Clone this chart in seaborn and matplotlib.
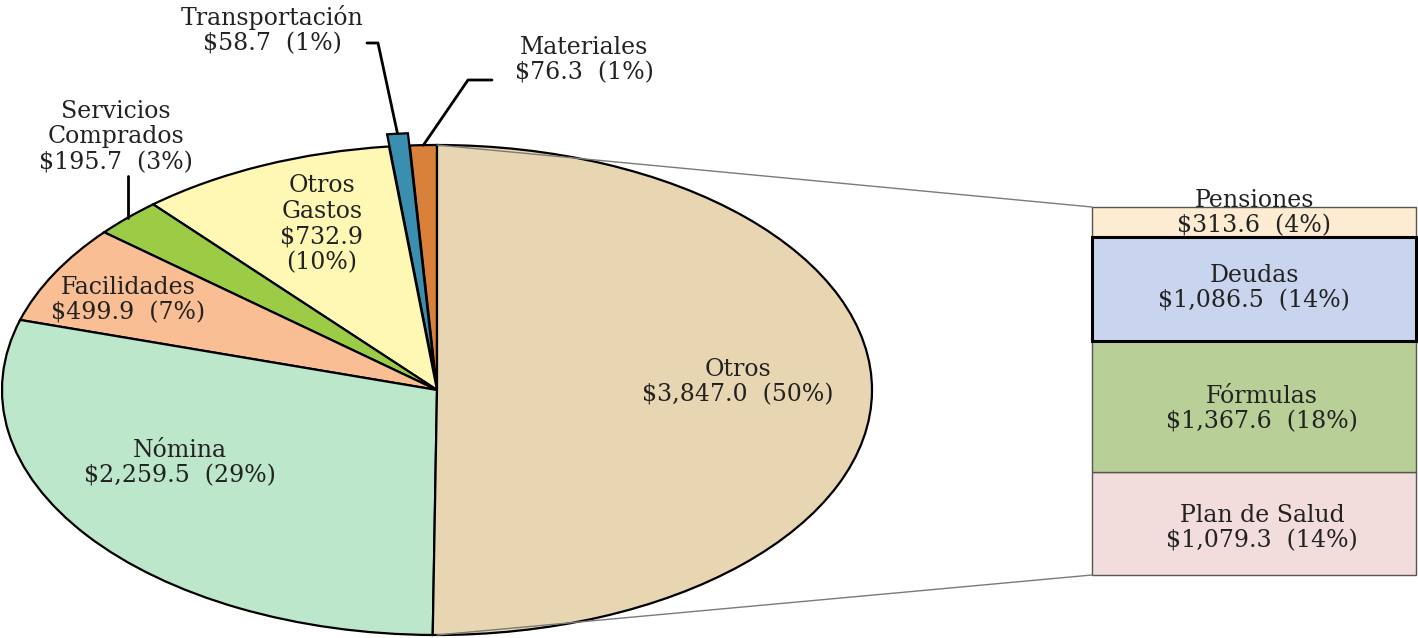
import numpy as np
import matplotlib.pyplot as plt
import seaborn as sns
from matplotlib.patches import ConnectionPatch

# pie slices, counter-clockwise from 12 o'clock
pie_names = ["Materiales", "Transportación", "Otros Gastos", "Servicios\nComprados",
             "Facilidades", "Nómina", "Otros"]
pie_values = [76.3, 58.7, 732.9, 195.7, 499.9, 2259.5, 3847.0]
pie_pcts = ["1%", "1%", "10%", "3%", "7%", "29%", "50%"]
pie_colors = ["#D9803A", "#3A8FB0", "#FEF8B4", "#9CCB45", "#F9BE93", "#BCE7CA", "#E8D6B2"]

# breakdown of "Otros", bottom to top
bar_names = ["Plan de Salud", "Fórmulas", "Deudas", "Pensiones"]
bar_values = [1079.3, 1367.6, 1086.5, 313.6]
bar_pcts = ["14%", "18%", "14%", "4%"]
bar_colors = ["#F2DDDC", "#B8CF98", "#C9D5EE", "#FDEBD2"]

W, H = 1418, 638

sns.set_theme(style="white")
plt.rcParams["font.family"] = ["DejaVu Serif"]

fig = plt.figure(figsize=(W / 100, H / 100), dpi=100)


def rect(x0, y0, x1, y1):
    return [x0 / W, 1 - y1 / H, (x1 - x0) / W, (y1 - y0) / H]


def money(v):
    return f"${v:,.1f}"


# pie (squashed into an ellipse)
ax_pie = fig.add_axes(rect(2, 145, 872, 635))
explode = [0, 0.05, 0, 0, 0, 0, 0]
wedges, _ = ax_pie.pie(pie_values, colors=pie_colors, startangle=90, counterclock=True,
                       explode=explode,
                       wedgeprops=dict(edgecolor="black", linewidth=1.6))
for w in wedges:
    w.set_clip_on(False)
ax_pie.set_aspect("auto")
ax_pie.set_xlim(-1, 1)
ax_pie.set_ylim(-1, 1)
ax_pie.axis("off")

# stacked bar
ax_bar = fig.add_axes(rect(1092, 207, 1416, 575))
bottoms = np.concatenate([[0], np.cumsum(bar_values)[:-1]])
total = sum(bar_values)
draw_order = [0, 1, 3, 2]
for i in draw_order:
    thick = bar_names[i] == "Deudas"
    sns.barplot(x=["Otros"], y=[bar_values[i]], bottom=bottoms[i], color=bar_colors[i],
                saturation=1, width=1, errorbar=None,
                edgecolor="black" if thick else "#555555",
                linewidth=2.2 if thick else 1.0, ax=ax_bar, clip_on=False)
ax_bar.set_xlim(-0.5, 0.5)
ax_bar.set_ylim(0, total)
ax_bar.axis("off")

# connector lines pie -> bar
for ya, yb in [(1, total), (-1, 0)]:
    con = ConnectionPatch(xyA=(0, ya), coordsA=ax_pie.transData,
                          xyB=(-0.5, yb), coordsB=ax_bar.transData,
                          color="#7a7a7a", lw=1.0)
    fig.add_artist(con)

# overlay in pixel coordinates for labels
ax_top = fig.add_axes([0, 0, 1, 1])
ax_top.set_xlim(0, W)
ax_top.set_ylim(H, 0)
ax_top.axis("off")
ax_top.set_zorder(5)

txt = dict(fontsize=17, color="#222222", ha="center", va="center",
           multialignment="center", linespacing=1.16)


def label(name, v, pct, x, y):
    ax_top.text(x, y, f"{name}\n{money(v)}  ({pct})", **txt)


def tip(i):
    w = wedges[i]
    a = np.deg2rad((w.theta1 + w.theta2) / 2)
    cx, cy = w.center
    p = ax_pie.transData.transform((cx + w.r * np.cos(a), cy + w.r * np.sin(a)))
    return ax_top.transData.inverted().transform(p)


# outside labels with leader lines
label("Transportación", pie_values[1], pie_pcts[1], 272, 30)
tx, ty = tip(1)
ax_top.plot([367, 378, tx], [43, 43, ty], color="black", lw=2)

label("Materiales", pie_values[0], pie_pcts[0], 584, 60)
tx, ty = tip(0)
ax_top.plot([492, 468, tx], [80, 80, ty], color="black", lw=2)

label("Servicios\nComprados", pie_values[3], pie_pcts[3], 116, 137)
tx, ty = tip(3)
ax_top.plot([tx, tx], [176, ty], color="black", lw=2)

# inside labels
ax_top.text(322, 224, f"Otros\nGastos\n{money(pie_values[2])}\n({pie_pcts[2]})", **txt)
label("Facilidades", pie_values[4], pie_pcts[4], 128, 300)
label("Nómina", pie_values[5], pie_pcts[5], 180, 463)
label("Otros", pie_values[6], pie_pcts[6], 738, 382)

# bar labels
bar_pos = [(1262, 528), (1262, 409), (1254, 288), (1254, 213)]
for name, v, pct, (x, y) in zip(bar_names, bar_values, bar_pcts, bar_pos):
    label(name, v, pct, x, y)

plt.savefig("out.png", dpi=100)
